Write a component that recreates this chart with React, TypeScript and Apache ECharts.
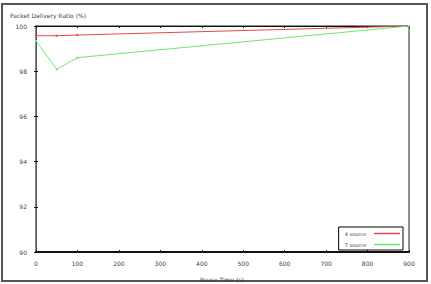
import React, { useEffect, useRef } from "react";
import * as echarts from "echarts";

const pauseTimes4 = [0, 50, 100, 900];
const ratio4 = [99.57, 99.57, 99.6, 100];
const pauseTimes7 = [0, 50, 100, 900];
const ratio7 = [99.34, 98.08, 98.6, 100];
const seriesNames = ["4 source", "7 source"];
const titleText = "Packet Delivery Ratio (%)";
const xLabelText = "Pause Time (s)";

export default function App() {
  const ref = useRef<HTMLDivElement>(null);
  useEffect(() => {
    const chart = echarts.init(ref.current!, null, { renderer: "svg" });
    const font = "DejaVu Sans";
    const labelStyle = { fontSize: 6, color: "#444", fontFamily: font };
    chart.setOption({
      animation: false,
      backgroundColor: "#fff",
      grid: { left: 36, right: 22, top: 26, bottom: 32, show: true, borderColor: "#222", borderWidth: 1 },
      graphic: [
        { type: "rect", shape: { x: 2, y: 4, width: 425, height: 277 }, style: { fill: "none", stroke: "#555", lineWidth: 2 }, z: -1 },
        { type: "text", left: 10, top: 12, style: { text: titleText, fontSize: 6, fill: "#444", fontFamily: font } },
        { type: "text", left: 200, top: 276, style: { text: xLabelText, fontSize: 6, fill: "#444", fontFamily: font } },
      ],
      legend: {
        data: seriesNames.map((n) => ({ name: n, icon: "rect" })),
        orient: "vertical",
        right: 28,
        top: 227,
        align: "right",
        backgroundColor: "#fff",
        borderColor: "#000",
        borderWidth: 1,
        borderRadius: 0,
        padding: [3, 3, 2, 6],
        itemGap: 4,
        itemWidth: 26,
        itemHeight: 1.5,
        textStyle: { ...labelStyle, fontSize: 5, padding: [0, 3, 0, 0], lineHeight: 7 },
      },
      xAxis: [
        {
          type: "value", min: 0, max: 900, interval: 100,
          axisLine: { lineStyle: { color: "#111", width: 2 } },
          axisTick: { inside: true, length: 2, lineStyle: { color: "#111" } },
          axisLabel: { ...labelStyle, margin: 8 },
          splitLine: { show: false },
        },
        {
          type: "value", min: 0, max: 900, interval: 100, position: "top",
          axisLine: { lineStyle: { color: "#111", width: 1 } },
          axisTick: { inside: true, length: 2, lineStyle: { color: "#111" } },
          axisLabel: { show: false },
          splitLine: { show: false },
        },
      ],
      yAxis: [
        {
          type: "value", min: 90, max: 100, interval: 2,
          axisLine: { show: true, lineStyle: { color: "#888", width: 2 } },
          axisTick: { show: true, inside: true, length: 2, lineStyle: { color: "#111" } },
          axisLabel: { ...labelStyle, margin: 9 },
          splitLine: { show: false },
        },
        {
          type: "value", min: 90, max: 100, interval: 2, position: "right",
          axisLine: { show: true, lineStyle: { color: "#555", width: 1 } },
          axisTick: { show: true, inside: true, length: 2, lineStyle: { color: "#111" } },
          axisLabel: { show: false },
          splitLine: { show: false },
        },
      ],
      series: [
        {
          name: seriesNames[0], type: "line",
          data: pauseTimes4.map((x, i) => [x, ratio4[i]]),
          symbol: "rect", symbolSize: 2, showSymbol: true,
          itemStyle: { color: "#e8474f" },
          lineStyle: { color: "#e8474f", width: 1 },
        },
        {
          name: seriesNames[1], type: "line",
          data: pauseTimes7.map((x, i) => [x, ratio7[i]]),
          symbol: "rect", symbolSize: 2, showSymbol: true,
          itemStyle: { color: "#6ee86e" },
          lineStyle: { color: "#6ee86e", width: 1 },
        },
      ],
    });
    return () => chart.dispose();
  }, []);
  return <div ref={ref} style={{ width: 431, height: 284, position: "absolute", left: 0, top: 0 }} />;
}
